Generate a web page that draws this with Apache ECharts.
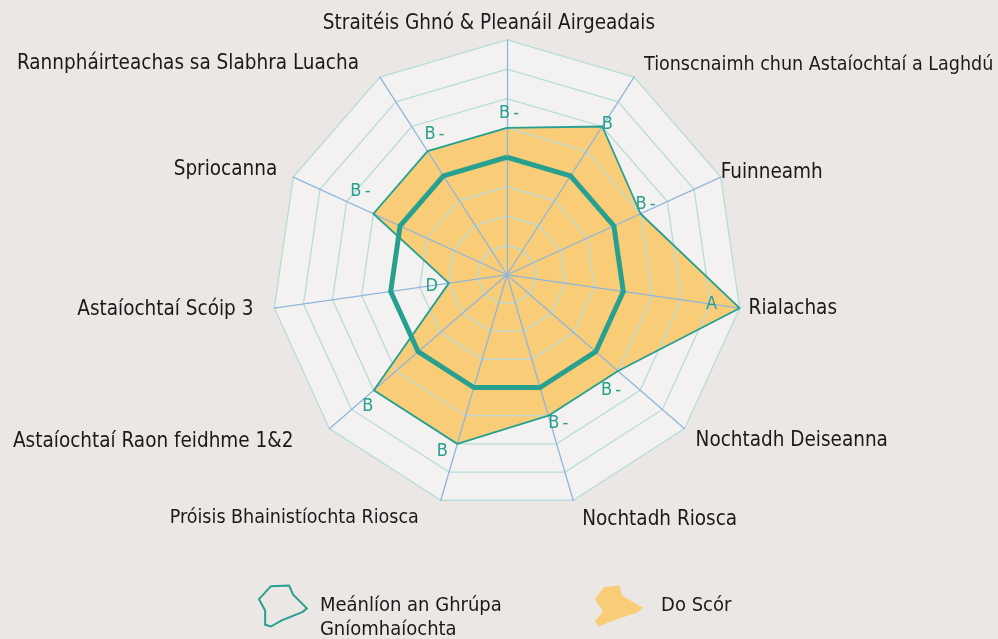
<!DOCTYPE html>
<html>
<head>
<meta charset="utf-8">
<script src="https://cdn.jsdelivr.net/npm/echarts@6/dist/echarts.min.js"></script>
<style>
  html, body { margin: 0; padding: 0; background: #ebe7e4; }
  #chart { width: 998px; height: 639px; }
</style>
</head>
<body>
<div id="chart"></div>
<script>
// Categories listed clockwise from the top spoke
const categories = [
  'Straitéis Ghnó & Pleanáil Airgeadais',
  'Tionscnaimh chun Astaíochtaí a Laghdú',
  'Fuinneamh',
  'Rialachas',
  'Nochtadh Deiseanna',
  'Nochtadh Riosca',
  'Próisis Bhainistíochta Riosca',
  'Astaíochtaí Raon feidhme 1&2',
  'Astaíochtaí Scóip 3',
  'Spriocanna',
  'Rannpháirteachas sa Slabhra Luacha'
];
// Levels on an 8-step grade scale (1 = lowest, 8 = A)
const yourScore = [5, 6, 5, 8, 5, 5, 6, 6, 2, 5, 5];
const groupAverage = [4, 4, 4, 4, 4, 4, 4, 4, 4, 4, 4];
const gradeScale = ['D-', 'D', 'C-', 'C', 'B-', 'B', 'A-', 'A'];
const averageName = 'Meánlíon an Ghrúpa\nGníomhaíochta';
const scoreName = 'Do Scór';

const FONT = "'DejaVu Sans Condensed', 'Liberation Sans', sans-serif";
const TEAL = '#27a08f';
const ORANGE = '#f9cd78';
const CENTER = ['50.8%', '43%'];
const RADIUS = 235;

// grade-label nudges (px) for each spoke, clockwise from the top
const gradeLabelShift = [
  [2, -15], [5, -2], [5, -9], [-28, -4], [-7, 19], [10, 8],
  [-15, 7], [-6, 16], [-17, 3], [-13, -22], [7, -17]
];
// spoke-name padding [top, right, bottom, left] and font size, clockwise from the top
const namePadding = [
  [0, 36, 6, 0], [0, 0, 24, 10], [0, 0, 8, 0], [0, 0, 0, 9],
  [24, 0, 0, 11], [39, 0, 0, 9], [35, 22, 0, 0], [26, 36, 0, 0],
  [2, 21, 0, 0], [0, 16, 14, 0], [0, 21, 27, 0]
];
const nameFontSize = [20.5, 19.5, 20.5, 20.5, 20.5, 20.5, 19.5, 20.5, 20.5, 20.5, 20.5];

const n = categories.length;
// ECharts lays indicators out counter-clockwise, so walk the list backwards
const order = categories.map((_, i) => (n - i) % n);
const indicators = order.map(i => ({ name: categories[i], min: 0, max: gradeScale.length }));
const scoreValues = order.map(i => yourScore[i]);
const averageValues = order.map(i => groupAverage[i]);

const nameRich = {};
namePadding.forEach((p, i) => {
  nameRich['n' + i] = { padding: p, fontFamily: FONT, fontSize: nameFontSize[i], color: '#1a1a1a' };
});

const chart = echarts.init(document.getElementById('chart'), null, { renderer: 'canvas' });

function spokeIndex(x, y) {
  const cx = chart.getWidth() * parseFloat(CENTER[0]) / 100;
  const cy = chart.getHeight() * parseFloat(CENTER[1]) / 100;
  const ang = Math.atan2(x - cx, cy - y);
  const step = Math.PI * 2 / n;
  return ((Math.round(ang / step) % n) + n) % n;
}

const baseRadar = {
  center: CENTER,
  radius: RADIUS,
  startAngle: 90,
  splitNumber: gradeScale.length,
  shape: 'polygon',
  indicator: indicators
};

const option = {
  backgroundColor: '#ebe7e4',
  animation: false,
  legend: {
    left: 253,
    top: 565,
    itemWidth: 50,
    itemHeight: 41,
    itemGap: 93,
    textStyle: { fontFamily: FONT, fontSize: 20, color: '#1a1a1a', lineHeight: 24 },
    // an empty leading line keeps the first text line level with the icon
    formatter: name => (name === averageName ? '\n' + name : name),
    data: [
      {
        name: averageName,
        icon: 'path://M40 2L93 0L105 27L145 67L133 77L70 103L40 120L23 115L23 73L5 40Z',
        itemStyle: { color: 'rgba(0,0,0,0)', borderColor: TEAL, borderWidth: 2 },
        textStyle: { padding: [0, 0, 0, 7] }
      },
      {
        name: scoreName,
        icon: 'path://M30 5L75 0L83 30L145 65L125 80L55 103L15 120L3 105L27 75L3 40Z',
        itemStyle: { color: ORANGE, borderWidth: 0 },
        textStyle: { padding: [0, 0, 0, 12] }
      }
    ]
  },
  radar: [
    Object.assign({}, baseRadar, {
      z: 0,
      nameGap: 0,
      axisName: {
        color: '#1a1a1a',
        fontFamily: FONT,
        fontSize: 20.5,
        formatter: name => '{n' + categories.indexOf(name) + '|' + name + '}',
        rich: nameRich
      },
      splitArea: { show: true, areaStyle: { color: ['#f3f2f0'] } },
      splitLine: { show: false },
      axisLine: { show: false }
    }),
    Object.assign({}, baseRadar, {
      z: 5,
      axisName: { show: false },
      splitArea: { show: false },
      splitLine: { show: true, lineStyle: { color: '#b7dcda', width: 1.3 } },
      axisLine: { show: true, lineStyle: { color: '#8fb6dc', width: 1.3 } },
      axisTick: { show: false },
      axisLabel: { show: false }
    })
  ],
  series: [
    {
      type: 'radar',
      name: scoreName,
      radarIndex: 0,
      z: 2,
      symbol: 'none',
      silent: true,
      lineStyle: { width: 0 },
      areaStyle: { color: ORANGE, opacity: 1 },
      data: [{ value: scoreValues, name: scoreName }]
    },
    {
      type: 'radar',
      name: scoreName,
      radarIndex: 0,
      z: 8,
      symbol: 'circle',
      symbolSize: 6,
      itemStyle: { color: 'rgba(0,0,0,0)' },
      lineStyle: { color: TEAL, width: 1.8 },
      label: {
        show: true,
        position: 'inside',
        color: TEAL,
        fontFamily: FONT,
        fontSize: 18,
        formatter: p => gradeScale[p.value - 1].replace('-', '\u2009-')
      },
      labelLayout: function (params) {
        const r = params.rect;
        const idx = spokeIndex(r.x + r.width / 2, r.y + r.height / 2);
        const s = gradeLabelShift[idx];
        return { dx: s[0], dy: s[1] };
      },
      data: [{ value: scoreValues, name: scoreName }]
    },
    {
      type: 'radar',
      name: averageName,
      radarIndex: 0,
      z: 9,
      symbol: 'none',
      lineStyle: { color: TEAL, width: 5 },
      data: [{ value: averageValues, name: averageName }]
    }
  ]
};

chart.setOption(option);
</script>
</body>
</html>
